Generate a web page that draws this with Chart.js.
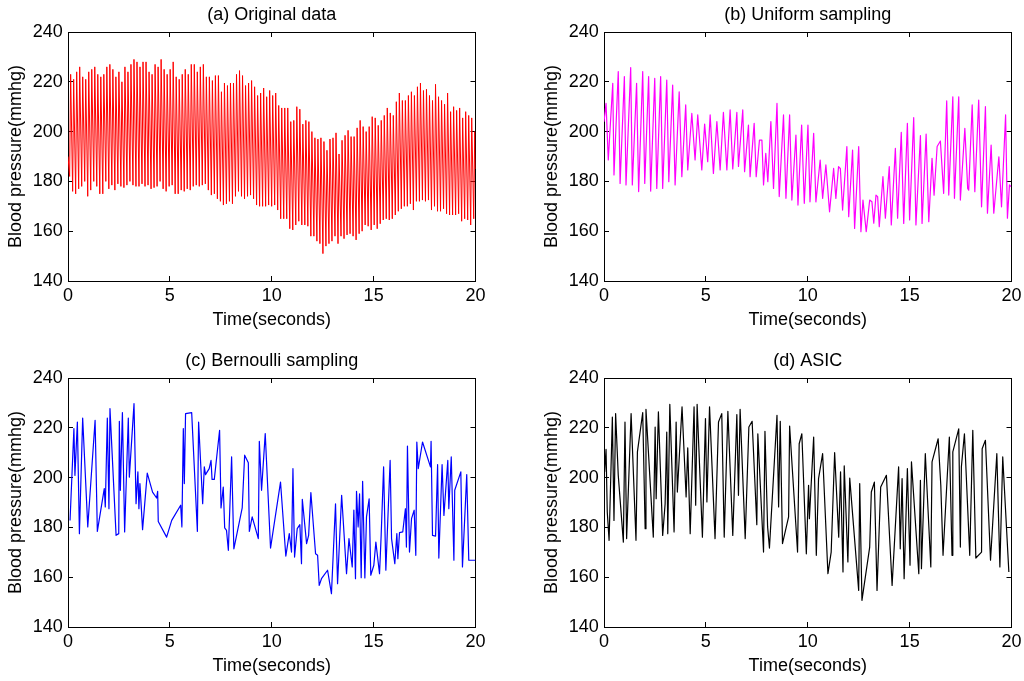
<!DOCTYPE html>
<html>
<head>
<meta charset="utf-8">
<script src="https://cdn.jsdelivr.net/npm/chart.js@4.4.0/dist/chart.umd.min.js"></script>
<style>
  body { margin: 0; background: #fff; width: 1024px; height: 681px; overflow: hidden; position: relative; }
  canvas { position: absolute; }
</style>
</head>
<body>
<canvas id="chartA" width="512" height="335" style="left:0;top:0"></canvas>
<canvas id="chartB" width="512" height="335" style="left:536px;top:0"></canvas>
<canvas id="chartC" width="512" height="335" style="left:0;top:346px"></canvas>
<canvas id="chartD" width="512" height="335" style="left:536px;top:346px"></canvas>
<script>
// axis ticks shared by the four panels
var timeTicks = [0, 5, 10, 15, 20];
var pressureTicks = [140, 160, 180, 200, 220, 240];

// (a) original data: one trough and one peak per heart beat
var beatPeriod = 0.148;
var origStart = 190;
var origEnd = 185;
var origPeaks = [
  223, 221, 224, 226, 222, 221, 224, 225, 226, 223, 222, 223, 226, 227, 225,
  222, 224, 220, 226, 224, 227, 229, 228, 226, 228, 228, 224, 223, 227, 226,
  229, 225, 223, 225, 228, 222, 221, 223, 225, 223, 227, 227, 224, 226, 227,
  222, 222, 220.5, 222.5, 222.5, 216, 219.5, 218.5, 219.5, 219.5, 223, 224.5, 222.5, 218.5, 219.5,
  220.5, 218, 214.5, 215.5, 217.5, 214, 216.5, 214.5, 215.5, 210.5, 209.5, 209.5, 209.5, 204, 204.5,
  210, 209, 203, 204.5, 204, 200, 197.5, 197, 197.5, 196, 192.5, 197, 197.5, 199.5,
  191, 196.5, 198.5, 200.5, 198, 198, 201.5, 204.5, 202, 200, 202, 206, 205.5, 202.5, 204.5,
  206.5, 209.5, 207.5, 206.5, 212, 215.5, 212.5, 212.5, 214.5, 216, 214.5, 218, 219.5, 216.5, 217,
  214.5, 212.5, 219, 214, 212.5, 211, 215.5, 208, 210, 208.5, 209.5, 205.5, 208, 206.5, 205.5, 200
];
var origTroughs = [
  182, 176, 175, 177, 178, 180, 174, 176.5, 180, 178, 175, 175, 180, 177, 178.5,
  176.5, 179, 178, 177.5, 178.5, 180, 178.5, 178, 178, 179, 178, 178.5, 177, 177.5, 178,
  180, 177, 176, 178, 178.5, 175, 175, 176.5, 176, 177, 176.5, 178, 178.5, 178, 178.5,
  179, 176.5, 174.5, 175, 173, 172, 170.5, 171, 172, 171, 174, 176, 174, 173, 174,
  174.5, 173, 170.5, 170, 170, 170, 170.5, 170, 170.5, 168.5, 165, 165, 165, 161, 160.5,
  162.5, 164, 162.5, 162.5, 162, 158, 158, 156, 155, 151, 154, 155, 156, 158,
  155, 158, 157, 158.5, 159, 158, 156.5, 159, 160, 162.5, 162, 160.5, 162.5, 161, 163,
  164.5, 165, 164.5, 165, 166.5, 168, 169, 170, 170, 171, 168.5, 172, 172, 172.5, 172,
  172.5, 168.5, 170, 168, 168, 169, 167, 166.5, 166.5, 166.5, 167, 164, 165, 164.5, 162.5, 165
];

// (b) uniform sampling
var uniformTimes = [
  0.00, 0.10, 0.21, 0.43, 0.49, 0.70, 0.79, 1.00, 1.08, 1.31, 1.39, 1.60, 1.70, 1.90, 2.00,
  2.19, 2.29, 2.49, 2.59, 2.78, 2.88, 3.08, 3.18, 3.37, 3.49, 3.69, 3.82, 4.01, 4.11, 4.31,
  4.47, 4.60, 4.80, 4.94, 5.09, 5.21, 5.37, 5.54, 5.70, 5.86, 6.03, 6.19, 6.32, 6.52, 6.60,
  6.81, 6.90, 7.09, 7.17, 7.37, 7.47, 7.63, 7.75, 7.83, 7.94, 8.04, 8.19, 8.32, 8.49, 8.60,
  8.81, 8.93, 9.11, 9.22, 9.42, 9.52, 9.70, 9.83, 10.01, 10.11, 10.29, 10.40, 10.61, 10.73, 10.89,
  11.07, 11.27, 11.38, 11.51, 11.60, 11.71, 11.92, 12.01, 12.20, 12.30, 12.50, 12.61, 12.71, 12.87, 13.04,
  13.15, 13.24, 13.35, 13.43, 13.51, 13.69, 13.81, 14.00, 14.10, 14.30, 14.41, 14.59, 14.71, 14.89, 15.00,
  15.20, 15.31, 15.53, 15.61, 15.81, 15.94, 16.10, 16.20, 16.35, 16.51, 16.67, 16.82, 16.92, 17.12, 17.20,
  17.41, 17.49, 17.71, 17.85, 17.90, 18.07, 18.20, 18.39, 18.53, 18.72, 18.82, 19.00, 19.13, 19.38, 19.51,
  19.71, 19.80, 19.90, 19.97
];
var uniformValues = [
  204, 211.3, 188.6, 219.4, 182.6, 224.1, 179.2, 222.1, 178.6, 225.7, 178.6, 219.4, 175.9, 224.1, 179.2,
  222.1, 176.1, 221.4, 177.2, 222.1, 177.2, 220.7, 179.9, 218.7, 178.6, 216, 181.9, 210.7, 184.6, 207.3,
  188.6, 206.7, 184.6, 203, 187.9, 206.7, 183.2, 204, 184.6, 207.7, 184.6, 208.7, 185, 207.7, 186,
  208.7, 183.9, 202.6, 181.9, 203.3, 181.9, 196.6, 196.6, 178.6, 191.3, 179.9, 204, 177.2, 211.3, 173.9,
  206.7, 173.2, 206.7, 172.5, 198.6, 170.5, 202.6, 171.2, 202.6, 171.8, 199.3, 171.8, 188.6, 173.2, 186.6,
  167.8, 185.2, 173.2, 185.9, 185.2, 168.5, 194, 165.8, 192.6, 161.1, 194, 159.8, 172.5, 159.8, 172.5,
  171.8, 163.2, 174.5, 173.9, 161.8, 181.9, 165.2, 185.9, 162.5, 193.3, 165.2, 199.7, 163.1, 203.3, 164.5,
  205.6, 162.5, 198.4, 163.1, 199, 163.8, 189.3, 174.5, 194, 196.2, 175.2, 212.3, 174.5, 214, 173.2,
  214, 172.5, 201.3, 177.2, 176.5, 210.7, 175.9, 212.7, 169.8, 210, 167.2, 194.6, 167.2, 189.9, 169.8,
  206.7, 165.2, 178.6, 177.9
];

// (c) Bernoulli sampling
var bernoulliTimes = [
  0.10, 0.29, 0.34, 0.46, 0.56, 0.72, 0.97, 1.33, 1.44, 1.78, 1.83, 1.93, 2.01, 2.06, 2.36,
  2.49, 2.52, 2.57, 2.67, 2.78, 2.96, 3.01, 3.24, 3.34, 3.43, 3.48, 3.53, 3.66, 3.89, 4.15,
  4.35, 4.40, 4.43, 4.84, 5.09, 5.53, 5.59, 5.66, 5.71, 5.77, 6.07, 6.35, 6.41, 6.61, 6.69,
  6.75, 6.93, 7.02, 7.07, 7.18, 7.44, 7.51, 7.62, 7.69, 7.78, 7.87, 8.03, 8.14, 8.55, 8.67,
  8.85, 8.90, 9.04, 9.34, 9.39, 9.50, 9.68, 9.94, 10.43, 10.69, 10.86, 10.97, 11.04, 11.12, 11.25,
  11.38, 11.46, 11.50, 11.71, 11.81, 11.92, 12.15, 12.25, 12.33, 12.44, 12.74, 12.93, 13.13, 13.23, 13.43,
  13.67, 13.79, 13.95, 14.03, 14.11, 14.16, 14.24, 14.31, 14.39, 14.46, 14.57, 14.65, 14.78, 14.86, 15.01,
  15.11, 15.29, 15.37, 15.49, 15.60, 15.81, 15.88, 16.04, 16.14, 16.19, 16.27, 16.43, 16.56, 16.61, 16.66,
  16.76, 16.86, 16.99, 17.07, 17.12, 17.19, 17.40, 17.79, 17.82, 17.89, 18.04, 18.14, 18.20, 18.36, 18.45,
  18.64, 18.69, 18.81, 18.94, 18.98, 19.28, 19.36, 19.57, 19.67, 20.00
];
var bernoulliValues = [
  182.8, 219.7, 200.9, 222.3, 177.5, 223.9, 180.2, 223.0, 178.4, 195.6, 188.2, 223.9, 187.5, 227.7, 176.8,
  177.5, 222.6, 194.9, 226.1, 178.2, 223.9, 200.2, 229.7, 189.5, 202.3, 187.5, 197.6, 179.1, 201.8, 194.2,
  191.8, 194.5, 182.4, 176.1, 182.8, 188.9, 180.2, 219.7, 197.6, 225.7, 226.1, 178.4, 222.3, 189.5, 204.3,
  201.2, 203.6, 206.9, 199.3, 199.3, 219.0, 187.8, 196.2, 179.8, 178.8, 170.8, 208.3, 171.4, 187.8, 209.0,
  206.0, 178.4, 184.2, 175.5, 214.6, 194.9, 217.7, 171.7, 198.2, 168.5, 177.5, 170.1, 203.6, 168.1, 179.5,
  181.1, 165.4, 191.3, 173.5, 176.8, 194.0, 169.4, 168.8, 156.7, 159.4, 162.8, 153.4, 189.5, 157.4, 192.9,
  161.4, 175.5, 164.1, 186.9, 159.4, 194.5, 180.2, 193.5, 159.8, 198.5, 159.7, 184.2, 191.5, 160.8, 164.8,
  174.1, 161.4, 176.8, 204.3, 162.8, 206.9, 175.5, 165.4, 177.5, 167.4, 177.9, 178.2, 187.5, 172.1, 212.7,
  170.1, 183.5, 186.9, 168.8, 214.3, 203.6, 214.3, 204.3, 214.6, 176.8, 176.5, 205.2, 167.7, 205.2, 184.8,
  206.9, 187.5, 208.3, 166.8, 194.9, 202.3, 164.1, 201.2, 166.8, 166.8
];

// (d) ASIC
var asicTimes = [
  0.03, 0.10, 0.16, 0.25, 0.41, 0.49, 0.57, 0.70, 0.95, 1.03, 1.11, 1.33, 1.57, 1.64, 1.90,
  2.02, 2.06, 2.42, 2.51, 2.56, 2.67, 2.88, 3.00, 3.08, 3.13, 3.23, 3.44, 3.54, 3.60, 3.83,
  4.03, 4.11, 4.23, 4.42, 4.50, 4.57, 4.83, 4.98, 5.05, 5.18, 5.45, 5.62, 5.78, 5.90, 6.08,
  6.32, 6.52, 6.60, 6.68, 6.93, 7.11, 7.27, 7.50, 7.55, 7.83, 7.90, 8.03, 8.12, 8.49, 8.57,
  8.65, 8.76, 9.06, 9.11, 9.50, 9.58, 9.71, 9.93, 10.04, 10.08, 10.29, 10.42, 10.53, 10.73, 10.99,
  11.15, 11.32, 11.52, 11.61, 11.73, 11.79, 11.97, 12.06, 12.50, 12.55, 12.66, 13.04, 13.12, 13.27, 13.40,
  13.58, 13.86, 14.14, 14.46, 14.54, 14.63, 14.73, 14.89, 15.02, 15.09, 15.45, 15.53, 15.58, 15.77, 16.04,
  16.10, 16.40, 16.53, 16.64, 16.95, 17.08, 17.12, 17.41, 17.49, 17.54, 17.69, 17.95, 18.10, 18.25, 18.53,
  18.56, 18.72, 18.97, 19.28, 19.43, 19.57, 19.87
];
var asicValues = [
  202.3, 211.3, 186.2, 174.8, 224.3, 182.8, 225.7, 200.9, 174.1, 222.3, 175.5, 225.7, 174.8, 210.3, 226.1,
  179.5, 227.4, 176.1, 220.3, 191.5, 226.4, 176.8, 189.5, 218.3, 177.5, 229.4, 178.2, 222.3, 194.2, 228.4,
  192.2, 211.9, 177.5, 228.4, 188.9, 229.4, 176.1, 223.7, 190.2, 228.4, 175.5, 222.3, 225.7, 176.1, 226.6,
  176.8, 225.3, 192.9, 227.4, 175.5, 220.3, 222.6, 181.1, 217.6, 170.1, 218.6, 180.2, 171.7, 225.0, 188.2,
  222.6, 173.5, 184.2, 220.7, 170.1, 213.6, 217.6, 169.4, 196.9, 183.5, 216.3, 168.8, 199.6, 209.6, 161.4,
  170.1, 210.0, 176.1, 202.3, 162.1, 204.7, 166.1, 199.8, 154.7, 197.6, 150.7, 172.1, 194.2, 198.2, 154.7,
  196.2, 200.9, 156.7, 204.3, 171.4, 199.6, 159.4, 203.6, 164.8, 206.3, 161.4, 198.9, 163.4, 209.6, 164.1,
  206.3, 215.6, 196.9, 168.8, 216.3, 168.8, 210.3, 219.6, 172.1, 204.3, 217.6, 168.8, 219.0, 167.7, 170.1,
  211.6, 215.0, 166.8, 209.6, 164.1, 208.3, 162.1
];

function toPoints(times, values) {
  var pts = [];
  var n = Math.min(times.length, values.length);
  for (var i = 0; i < n; i++) pts.push({ x: times[i], y: values[i] });
  return pts;
}

function beatPoints() {
  var pts = [{ x: 0, y: origStart }];
  var n = Math.min(origPeaks.length, origTroughs.length);
  for (var i = 0; i < n; i++) {
    pts.push({ x: 0.08 + i * beatPeriod, y: origTroughs[i] });
    pts.push({ x: 0.13 + i * beatPeriod, y: origPeaks[i] });
  }
  pts.push({ x: 20, y: origEnd });
  return pts;
}

Chart.defaults.font.family = '"Liberation Sans", Arial, Helvetica, sans-serif';
Chart.defaults.font.size = 18;
Chart.defaults.color = '#000';

function tickList(values) {
  return function(scale) {
    scale.ticks = values.map(function(v) { return { value: v }; });
  };
}

function makePanel(id, title, color, width, points) {
  var tickGrid = { display: true, drawOnChartArea: false, drawTicks: true, tickLength: -5, color: '#000', lineWidth: 1 };
  var edge = { display: true, color: '#000', width: 1 };
  new Chart(document.getElementById(id), {
    type: 'line',
    data: {
      datasets: [{
        data: points,
        borderColor: color,
        borderWidth: width,
        borderJoinStyle: 'round',
        pointRadius: 0,
        tension: 0,
        fill: false,
        xAxisID: 'x',
        yAxisID: 'y'
      }]
    },
    options: {
      responsive: false,
      animation: false,
      events: [],
      layout: { padding: { left: 0, right: 36.5, top: 0, bottom: 0 } },
      plugins: {
        legend: { display: false },
        tooltip: { enabled: false },
        title: {
          display: true,
          text: title,
          fullSize: false,
          color: '#000',
          font: { size: 18, weight: 'normal' },
          padding: { top: 4.2, bottom: 6.2 }
        }
      },
      scales: {
        x: {
          type: 'linear', position: 'bottom', min: 0, max: 20,
          afterBuildTicks: tickList(timeTicks),
          ticks: { padding: 9.7, maxRotation: 0, autoSkip: false },
          grid: tickGrid, border: edge,
          title: { display: true, text: 'Time(seconds)', padding: { top: 0, bottom: 4.2 } },
          afterFit: function(s) { s.height = 54; }
        },
        y: {
          type: 'linear', position: 'left', min: 140, max: 240,
          afterBuildTicks: tickList(pressureTicks),
          ticks: { padding: 10.3 },
          grid: tickGrid, border: edge,
          title: { display: true, text: 'Blood pressure(mmhg)', padding: { top: 5, bottom: 0 } },
          afterFit: function(s) { s.width = 68; }
        },
        xTop: {
          type: 'linear', position: 'top', min: 0, max: 20,
          afterBuildTicks: tickList(timeTicks),
          ticks: { display: false },
          grid: tickGrid, border: edge,
          afterFit: function(s) { s.height = 0; }
        },
        yRight: {
          type: 'linear', position: 'right', min: 140, max: 240,
          afterBuildTicks: tickList(pressureTicks),
          ticks: { display: false },
          grid: tickGrid, border: edge,
          afterFit: function(s) { s.width = 0; }
        }
      }
    }
  });
}

makePanel('chartA', '(a) Original data', '#ff0000', 1, beatPoints());
makePanel('chartB', '(b) Uniform sampling', '#ff00ff', 1.2, toPoints(uniformTimes, uniformValues));
makePanel('chartC', '(c) Bernoulli sampling', '#0000ff', 1.2, toPoints(bernoulliTimes, bernoulliValues));
makePanel('chartD', '(d) ASIC', '#000000', 1.2, toPoints(asicTimes, asicValues));
</script>
</body>
</html>
